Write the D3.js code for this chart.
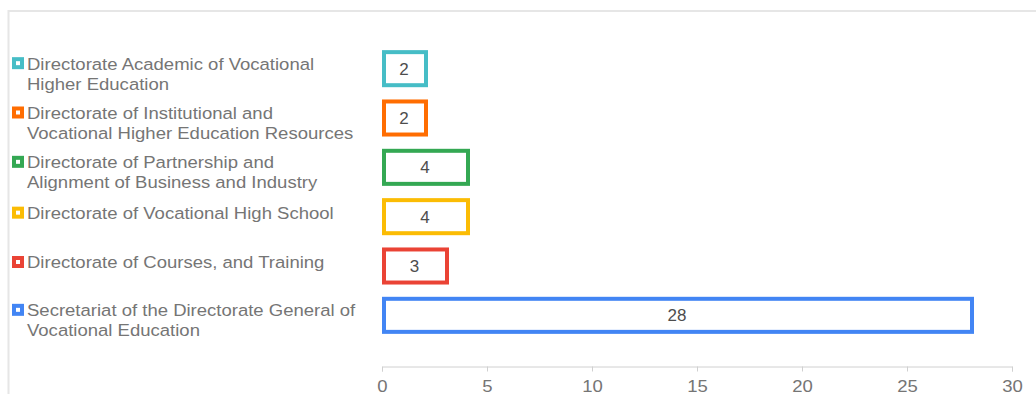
<!DOCTYPE html>
<html>
<head>
<meta charset="utf-8">
<script src="https://cdn.jsdelivr.net/npm/d3@7"></script>
<style>
  html, body { margin: 0; padding: 0; background: #fff; }
  svg { display: block; font-family: "Liberation Sans", Arial, sans-serif; }
</style>
</head>
<body>
<svg id="chart" width="1036" height="394"></svg>
<script>
const categories = [
  ["Directorate Academic of Vocational", "Higher Education"],
  ["Directorate of Institutional and", "Vocational Higher Education Resources"],
  ["Directorate of Partnership and", "Alignment of Business and Industry"],
  ["Directorate of Vocational High School"],
  ["Directorate of Courses, and Training"],
  ["Secretariat of the Directorate General of", "Vocational Education"]
];
const values = [2, 2, 4, 4, 3, 28];
const colors = ["#46BDC6", "#FF6D01", "#34A853", "#FBBC04", "#EA4335", "#4285F4"];
const xTicks = [0, 5, 10, 15, 20, 25, 30];

const svg = d3.select("#chart");

// frame
svg.append("line").attr("x1", 8).attr("x2", 1036).attr("y1", 11).attr("y2", 11)
  .attr("stroke", "#e6e6e6").attr("stroke-width", 2);
svg.append("line").attr("x1", 8.5).attr("x2", 8.5).attr("y1", 10).attr("y2", 394)
  .attr("stroke", "#e6e6e6").attr("stroke-width", 2);

const x = d3.scaleLinear().domain([0, 30]).range([382, 1012]);
const y = d3.scaleBand().domain(d3.range(values.length)).range([44, 340]).paddingInner(0.33).paddingOuter(0.165);

// axis
const axisY = 366.5;
const axis = svg.append("g").attr("transform", `translate(0,${axisY})`)
  .call(d3.axisBottom(x).tickValues(xTicks).tickSize(5).tickFormat(d3.format("d")));
axis.select(".domain").attr("stroke", "#d0d0d0").attr("stroke-width", 1);
axis.selectAll(".tick line").attr("stroke", "#d0d0d0");
axis.selectAll(".tick text").attr("y", 25.5).attr("dy", 0)
  .attr("font-size", 17).attr("fill", "#757575").attr("text-anchor", "middle")
  .attr("transform", "scale(1.09,1)")
  .attr("dominant-baseline", "auto");

// bars
const bars = svg.append("g");
bars.selectAll("rect").data(values).join("rect")
  .attr("x", x(0) + 2)
  .attr("y", (d, i) => y(i))
  .attr("width", d => x(d) - x(0))
  .attr("height", y.bandwidth())
  .attr("fill", "#fff")
  .attr("stroke", (d, i) => colors[i])
  .attr("stroke-width", 4);

bars.selectAll("text").data(values).join("text")
  .attr("x", d => (x(d) + x(0)) / 2 + 1)
  .attr("y", (d, i) => y(i) + y.bandwidth() / 2 + 6)
  .attr("text-anchor", "middle")
  .attr("font-size", 17)
  .attr("fill", "#4d4d4d")
  .text(d => d);

// legend
const leg = svg.append("g");
categories.forEach((lines, i) => {
  const cy = y(i) + y.bandwidth() / 2;
  const base = cy + (lines.length > 1 ? 1 : 2.5);
  leg.append("rect")
    .attr("x", 14).attr("y", base - 10.5)
    .attr("width", 8).attr("height", 8)
    .attr("fill", "#fff")
    .attr("stroke", colors[i]).attr("stroke-width", 4);
  const g = leg.append("g").attr("transform", "translate(27,0) scale(1.09,1)");
  const t = g.append("text")
    .attr("x", 0).attr("y", base)
    .attr("font-size", 17).attr("fill", "#757575");
  lines.forEach((ln, k) => {
    t.append("tspan").attr("x", 0).attr("y", base + k * 20).text(ln);
  });
});
</script>
</body>
</html>
